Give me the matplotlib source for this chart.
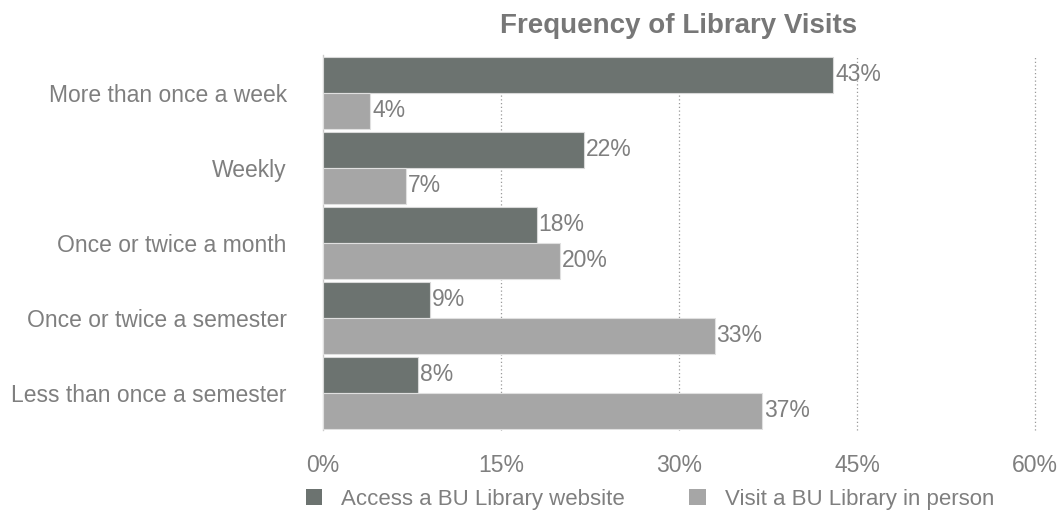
import numpy as np
import matplotlib
matplotlib.use("Agg")
import matplotlib.pyplot as plt
from matplotlib.patches import Patch

categories = ["More than once a week", "Weekly", "Once or twice a month",
              "Once or twice a semester", "Less than once a semester"]
website = [43, 22, 18, 9, 8]
in_person = [4, 7, 20, 33, 37]
series_names = ["Access a BU Library website", "Visit a BU Library in person"]
xticks = [0, 15, 30, 45, 60]

dark = "#6c7370"
light = "#a6a6a6"
txt = "#7f7f7f"
fs = 16.5

plt.rcParams["font.family"] = ["Liberation Sans", "DejaVu Sans"]

fig = plt.figure(figsize=(10.62, 5.15), dpi=100)
ax = fig.add_axes([0.3041, 0.165, 0.6705, 0.7282])

y = np.arange(len(categories))
h = 0.48
ax.barh(y - h / 2, website, height=h, color=dark, edgecolor="#d8d8d8",
        linewidth=0.8, zorder=3)
ax.barh(y + h / 2, in_person, height=h, color=light, edgecolor="#e0e0e0",
        linewidth=0.8, zorder=3)

for yi, v in zip(y, website):
    ax.text(v + 0.15, yi - h / 2, f"{v}%", va="center", ha="left",
            fontsize=fs, color=txt, zorder=4)
for yi, v in zip(y, in_person):
    ax.text(v + 0.15, yi + h / 2, f"{v}%", va="center", ha="left",
            fontsize=fs, color=txt, zorder=4)

ax.set_xlim(0, 60)
ax.set_ylim(len(categories) - 0.5, -0.5)
ax.set_yticks(y)
ax.set_yticklabels(categories, fontsize=fs, color=txt)
ax.set_xticks(xticks)
ax.set_xticklabels([f"{t}%" for t in xticks], fontsize=fs, color=txt)
ax.tick_params(length=0)
ax.tick_params(axis="y", pad=26)
ax.tick_params(axis="x", pad=17)

for t in xticks[1:]:
    ax.axvline(t, color="#999999", linestyle=(0, (1, 2)), linewidth=0.9,
               zorder=1, clip_on=False)

for s in ["top", "right", "bottom"]:
    ax.spines[s].set_visible(False)
ax.spines["left"].set_color("#cccccc")
ax.spines["left"].set_linewidth(1)

ax.set_title("Frequency of Library Visits", fontsize=20, fontweight="bold",
             color="#777777", pad=16)

handles = [Patch(facecolor=dark, label=series_names[0]),
           Patch(facecolor=light, label=series_names[1])]
leg = fig.legend(handles=handles, loc="center left",
                 bbox_to_anchor=(0.269, 0.03), ncol=2, frameon=False,
                 fontsize=16, handlelength=0.75, handleheight=0.75,
                 handletextpad=0.85, columnspacing=2.9)
for t in leg.get_texts():
    t.set_color(txt)

fig.savefig("out.png", dpi=100)
